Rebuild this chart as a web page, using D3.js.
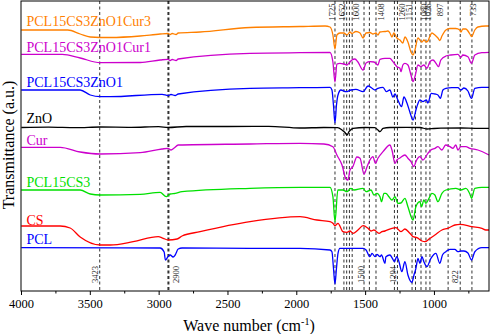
<!DOCTYPE html>
<html><head><meta charset="utf-8">
<script src="https://cdn.jsdelivr.net/npm/d3@7"></script>
<style>html,body{margin:0;padding:0;background:#fff}svg{display:block}</style>
</head><body>
<svg id="c" width="491" height="334"></svg>
<script>
// ---- data: [wavenumber (cm-1), offset transmittance (a.u.)] ----
const PCL15CS3ZnO1Cur3 = [[3998,270],[3660,270],[3570,266],[3497,263],[3352,262.5],[3134,264],[2989,266],[2931,266.5],[2916,265.5],[2902,266.5],[2873,265.5],[2858,267],[2699,268],[2336,272.5],[1973,273.5],[1791,274],[1755,273],[1734,265],[1719,251],[1705,265],[1683,267],[1654,267],[1632,265],[1610,268],[1596,266.5],[1567,268.5],[1537,267],[1515,262],[1493,267],[1465,267.5],[1443,266],[1421,267],[1407,265],[1392,268],[1356,268.5],[1334,269],[1320,267],[1305,263],[1291,267],[1269,262],[1247,260],[1226,257],[1211,263],[1189,258],[1167,248],[1152,245],[1138,250],[1116,262],[1102,260],[1087,258],[1073,260],[1058,258],[1044,259],[1029,264],[1015,267],[993,265],[971,262],[957,259.5],[942,264],[913,270],[884,271.5],[841,271.5],[812,270],[804,268],[790,271],[768,271],[753,269],[739,266],[727,263.5],[703,270],[681,273],[623,274],[600,274]];
const PCL15CS3ZnO1Cur1 = [[3998,245.7],[3700,245.7],[3570,242],[3425,237.3],[3134,237.5],[2989,240],[2931,240.7],[2916,239.5],[2902,240.5],[2873,239.5],[2858,241],[2336,246.7],[1973,247.3],[1755,247.5],[1734,238],[1719,218],[1705,236],[1683,236.7],[1654,236],[1632,235],[1610,238],[1596,240],[1574,241],[1552,238],[1515,230],[1493,237],[1465,238.3],[1436,238],[1407,235],[1392,240.7],[1356,241.7],[1320,241.7],[1298,238.3],[1269,233.3],[1247,231.7],[1240,228.3],[1226,235],[1211,236.7],[1189,235],[1167,225],[1152,218.3],[1138,223.3],[1116,235],[1095,233.3],[1073,235],[1051,231.7],[1029,238.3],[1007,240],[985,236.7],[967,233.3],[950,240],[913,244],[877,245],[826,245.7],[804,242.7],[790,245],[753,243.3],[727,236.7],[703,245],[652,247.3],[600,247.7]];
const PCL15CS3ZnO1 = [[3998,210],[3570,210],[3497,205],[3425,203.3],[3352,203.3],[2975,205.7],[2931,204.5],[2910,205.5],[2880,204.5],[2858,206],[2336,211.7],[1973,212.3],[1755,212.7],[1741,210],[1730,195],[1719,177],[1708,195],[1697,205],[1676,210],[1639,208.3],[1603,210],[1567,210.7],[1515,208.3],[1479,214],[1450,211.7],[1428,210],[1407,211.7],[1370,212.7],[1345,208.3],[1320,210],[1298,203],[1283,206],[1262,200],[1235,193.3],[1218,203],[1196,197],[1175,188],[1152,180],[1127,192],[1102,200],[1080,198.3],[1055,200],[1044,197],[1019,206.7],[993,206],[971,205],[953,201.7],[935,210],[913,211.7],[870,212.3],[826,212.3],[804,210],[782,212],[753,209],[727,201.7],[703,211.7],[652,212.7],[600,212.7]];
const ZnO = [[3998,172.5],[3800,172.8],[3600,172.3],[3425,173],[3200,172.7],[3000,173.3],[2931,172.5],[2800,173.5],[2500,173.5],[2200,173.7],[1973,172],[1800,172.5],[1700,172.3],[1668,170],[1646,167.5],[1632,165],[1617,168.3],[1588,171.7],[1500,172.5],[1430,172.3],[1407,170],[1392,168.3],[1370,171.7],[1320,172.5],[1200,172.7],[1100,172.5],[1050,171],[1000,171.5],[950,171.8],[800,172],[700,171.7],[600,171.7]];
const Cur = [[3998,152.7],[3715,152.7],[3570,148],[3425,146],[3134,147.3],[2975,151],[2931,151.7],[2910,150],[2887,152],[2858,155],[2336,156],[1973,156.7],[1800,156],[1734,153.3],[1705,145],[1668,135],[1639,121],[1624,120],[1610,130],[1589,133.3],[1560,143],[1537,141.7],[1508,126],[1486,133.3],[1465,140],[1443,143.3],[1425,136.7],[1407,141.7],[1370,148.3],[1320,155],[1305,150],[1283,136.7],[1269,140],[1247,142],[1211,145],[1189,141.7],[1167,138.3],[1145,133.3],[1131,138.3],[1102,143.3],[1080,140],[1044,146.7],[1022,150],[993,151.7],[971,153.3],[942,150],[915,155],[884,153.3],[862,151.7],[841,155],[826,150],[804,153.3],[768,153.3],[739,151.7],[681,150],[600,145]];
const PCL15CS3 = [[3998,110],[3570,110],[3497,106],[3425,105],[3134,105.7],[2989,107.7],[2945,103.3],[2916,106],[2880,106.7],[2830,108.3],[2336,111.7],[1973,112.7],[1755,112.7],[1734,103.3],[1719,78.3],[1698,110],[1661,110],[1632,108.3],[1603,111.7],[1581,110],[1515,111.7],[1493,108.3],[1457,110],[1436,105],[1414,106.7],[1392,103.3],[1381,98.3],[1363,106.7],[1349,106.7],[1327,103.3],[1305,100],[1283,103.3],[1262,96.7],[1240,97],[1211,101.7],[1189,93.3],[1152,80],[1131,93.3],[1102,98.3],[1090,93.3],[1073,100],[1058,96.7],[1036,101.7],[1015,106.7],[993,105],[971,98.3],[942,106.7],[913,110],[841,111.7],[804,110],[768,111.7],[739,106],[727,101.7],[703,111.7],[652,112.7],[600,112.7]];
const CS = [[3998,74],[3715,74],[3643,72],[3570,63],[3425,55],[3352,55],[3185,58.3],[3003,63.3],[2967,61.7],[2931,60],[2866,61],[2830,64],[2699,68.3],[2336,78.3],[1973,83.3],[1850,80],[1755,78.3],[1734,76.7],[1719,74.3],[1697,76.7],[1661,68.3],[1632,67.7],[1610,69],[1588,66.7],[1552,70],[1515,74.3],[1479,71.7],[1457,69],[1436,70],[1399,66.7],[1378,68.3],[1356,69],[1305,71.7],[1276,72.3],[1240,68.3],[1211,71],[1175,66.7],[1152,63.3],[1124,62.3],[1087,59],[1066,58.3],[1029,61.7],[993,65],[942,70],[899,71.7],[848,75],[811,75.7],[724,73.3],[652,71.7],[623,70],[600,70]];
const PCL = [[3998,52.3],[2989,52],[2960,48],[2951,40],[2931,43.5],[2916,45],[2895,43],[2880,45],[2858,51],[2830,52],[2336,51.7],[1973,51.7],[1755,50],[1741,48.3],[1730,32],[1719,16],[1708,32],[1697,46.7],[1683,51.7],[1515,51.7],[1493,50],[1465,43.3],[1450,46.7],[1428,43.3],[1414,45.7],[1392,43.3],[1381,45],[1356,36.7],[1349,43.3],[1320,45],[1302,41.7],[1287,38.3],[1271,43.3],[1254,38.3],[1233,28.3],[1211,38.3],[1189,25],[1160,17.7],[1145,25],[1131,31.7],[1116,41.7],[1102,36.7],[1087,43.3],[1073,38.3],[1051,33.3],[1022,41.7],[986,46.7],[957,36.7],[938,45],[913,48.3],[884,50.7],[848,50.7],[826,48.3],[804,49],[782,49],[753,47],[727,40],[703,48.3],[652,52.3],[600,52.3]];

const seriesNames  = ["PCL15CS3ZnO1Cur3","PCL15CS3ZnO1Cur1","PCL15CS3ZnO1","ZnO","Cur","PCL15CS3","CS","PCL"];
const seriesData   = [PCL15CS3ZnO1Cur3, PCL15CS3ZnO1Cur1, PCL15CS3ZnO1, ZnO, Cur, PCL15CS3, CS, PCL];
const seriesColors = ["#FF8000","#CC00CC","#0000FF","#000000","#CC00CC","#00E000","#FF0000","#0000FF"];
const seriesLabelY = [274, 248.5, 213, 177.5, 155, 113.5, 75, 56]; // label baseline level (a.u.)

const xTicks = [4000,3500,3000,2500,2000,1500,1000];
const xMinorTicks = [3750,3250,2750,2250,1750,1250,750];
const peakLines = [3428,2929,1719,1654,1634,1614,1594,1508,1469,1421,1287,1265,1159,1134,1094,1058,1029,897,809,724];
const boldLines = [2929];
const topLabels = ["1725","1652","1600","1408","1260","1151","1080","1026","897","733"];
const topLabelAt = [1743,1670,1567,1388,1235,1178,1069,1040,957,716];
const bottomLabels = ["3423","2900","1500","1294","822"];
const bottomLabelAt = [3465,2875,1533,1296,848];

// ---- chart ----
const svg = d3.select('#c');
const m = {l:21, r:489, t:1, b:291};
const x = d3.scaleLinear().domain([4000,600]).range([m.l,m.r]);
const y = d3.scaleLinear().domain([9,299]).range([m.b,m.t]);
const serif = "'Liberation Serif','Times New Roman',serif";

// peak guide lines
svg.append('g').selectAll('line').data(peakLines).join('line')
  .attr('x1',d=>x(d)).attr('x2',d=>x(d)).attr('y1',m.t).attr('y2',m.b)
  .attr('stroke','#333').attr('stroke-width',d=>boldLines.includes(d)?2:1)
  .attr('stroke-dasharray','3,2.5');

// spectra
const line = d3.line().x(d=>x(d[0])).y(d=>y(d[1])).curve(d3.curveMonotoneX);
svg.append('g').selectAll('path').data(seriesData).join('path')
  .attr('d',line).attr('fill','none')
  .attr('stroke',(d,i)=>seriesColors[i]).attr('stroke-width',1.3);

// series labels
svg.append('g').selectAll('text').data(seriesNames).join('text')
  .attr('x',26.5).attr('y',(d,i)=>y(seriesLabelY[i]))
  .attr('fill',(d,i)=>seriesColors[i])
  .style('font-family',serif).style('font-size','14px').text(d=>d);

// peak labels
const tl = svg.append('g').style('font-family',serif).style('font-size','8.5px').attr('fill','#222');
topLabels.forEach((t,i)=>{
  tl.append('text').attr('transform',`translate(${x(topLabelAt[i])+3},3.5) rotate(-90)`)
    .attr('text-anchor','end').text(t);
});
bottomLabels.forEach((t,i)=>{
  tl.append('text').attr('transform',`translate(${x(bottomLabelAt[i])+3},283) rotate(-90)`)
    .attr('text-anchor','start').text(t);
});

// frame
svg.append('rect').attr('x',m.l).attr('y',m.t).attr('width',m.r-m.l).attr('height',m.b-m.t)
  .attr('fill','none').attr('stroke','#000').attr('stroke-width',1);

// x axis
const ax = svg.append('g').attr('transform',`translate(0,${m.b})`)
  .call(d3.axisBottom(x).tickValues(xTicks).tickFormat(d3.format('d')).tickSize(4).tickSizeOuter(0));
ax.select('.domain').remove();
ax.selectAll('text').style('font-family',serif).style('font-size','12.5px').attr('fill','#000').attr('dy','0.95em').attr('y',5);
svg.append('g').attr('transform',`translate(0,${m.b})`)
  .call(d3.axisBottom(x).tickValues(xMinorTicks).tickFormat('').tickSize(2.5).tickSizeOuter(0))
  .select('.domain').remove();

// axis titles
const xt = svg.append('text').attr('x',249).attr('y',331).attr('text-anchor','middle')
  .style('font-family',serif).style('font-size','16px').attr('fill','#000');
xt.append('tspan').text('Wave number (cm');
xt.append('tspan').attr('dy',-6).style('font-size','10px').text('-1');
xt.append('tspan').attr('dy',6).text(')');

svg.append('text').attr('transform','translate(13.5,145) rotate(-90)').attr('text-anchor','middle')
  .style('font-family',serif).style('font-size','16px').attr('fill','#000').text('Transmittance (a.u.)');
</script>
</body></html>
